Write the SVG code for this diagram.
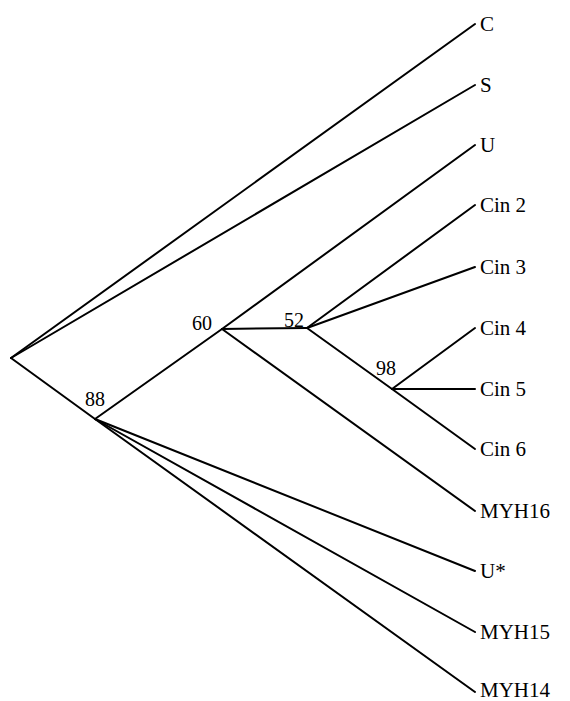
<svg xmlns="http://www.w3.org/2000/svg" width="570" height="701" viewBox="0 0 570 701">
<style>
.e{stroke:#000;stroke-width:2;fill:none;stroke-linecap:round}
text{fill:#000}
.l{font-size:21px}
.b{font-size:20px}
</style>
<rect width="570" height="701" fill="#fff"/>
<g id="connectors">
<line class="e" x1="11" y1="358" x2="475" y2="24"/>
<line class="e" x1="11" y1="358" x2="475" y2="85"/>
<line class="e" x1="11" y1="358" x2="95" y2="419"/>
<line class="e" x1="95" y1="419" x2="222" y2="329"/>
<line class="e" x1="95" y1="419" x2="475" y2="571"/>
<line class="e" x1="95" y1="419" x2="475" y2="632"/>
<line class="e" x1="95" y1="419" x2="475" y2="692"/>
<line class="e" x1="222" y1="329" x2="475" y2="145"/>
<line class="e" x1="222" y1="329" x2="307" y2="328"/>
<line class="e" x1="222" y1="329" x2="475" y2="511"/>
<line class="e" x1="307" y1="328" x2="475" y2="205"/>
<line class="e" x1="307" y1="328" x2="475" y2="267"/>
<line class="e" x1="307" y1="328" x2="392" y2="389"/>
<line class="e" x1="392" y1="389" x2="475" y2="328"/>
<line class="e" x1="392" y1="389" x2="475" y2="389"/>
<line class="e" x1="392" y1="389" x2="475" y2="449"/>
</g>
<g font-family="Liberation Serif, DejaVu Serif, serif">
<g id="n88"><text class="b" x="85" y="406">88</text></g>
<g id="n60"><text class="b" x="192" y="330">60</text></g>
<g id="n52"><text class="b" x="284" y="327">52</text></g>
<g id="n98"><text class="b" x="376" y="375">98</text></g>
<g id="C"><text class="l" x="480" y="31">C</text></g>
<g id="S"><text class="l" x="480" y="92">S</text></g>
<g id="U"><text class="l" x="480" y="152">U</text></g>
<g id="Cin2"><text class="l" x="480" y="212">Cin 2</text></g>
<g id="Cin3"><text class="l" x="480" y="274">Cin 3</text></g>
<g id="Cin4"><text class="l" x="480" y="335">Cin 4</text></g>
<g id="Cin5"><text class="l" x="480" y="396">Cin 5</text></g>
<g id="Cin6"><text class="l" x="480" y="456">Cin 6</text></g>
<g id="MYH16"><text class="l" x="480" y="518">MYH16</text></g>
<g id="Ustar"><text class="l" x="480" y="578">U*</text></g>
<g id="MYH15"><text class="l" x="480" y="639">MYH15</text></g>
<g id="MYH14"><text class="l" x="480" y="697">MYH14</text></g>
</g>
</svg>
